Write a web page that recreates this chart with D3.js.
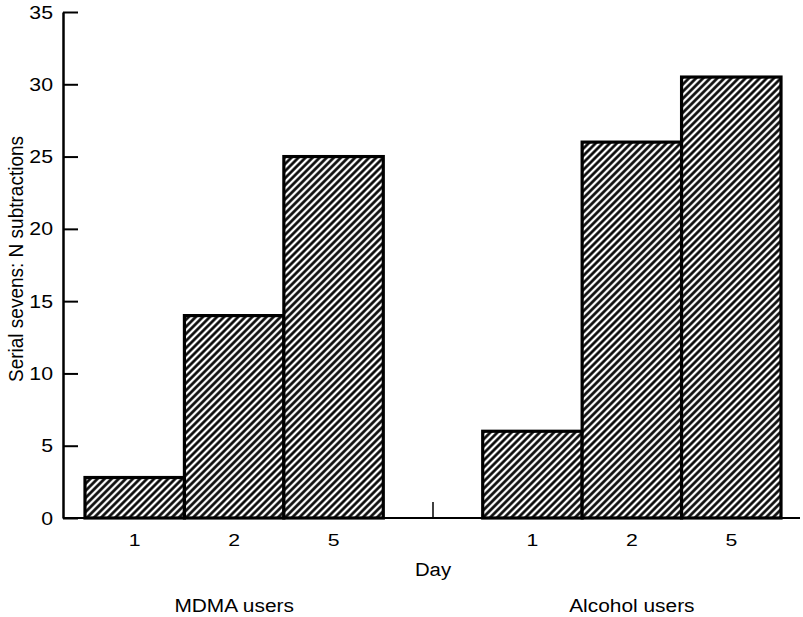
<!DOCTYPE html>
<html>
<head>
<meta charset="utf-8">
<script src="https://cdn.jsdelivr.net/npm/d3@7"></script>
<style>
  html, body { margin: 0; padding: 0; background: #fff; }
  svg { display: block; }
  text { font-family: "Liberation Sans", Arial, Helvetica, sans-serif; fill: #000; }
</style>
</head>
<body>
<svg id="chart" width="803" height="617"></svg>
<script>
// ---- data ----
const groups = ["MDMA users", "Alcohol users"];
const days = ["1", "2", "5"];
const mdmaValues = [2.8, 14, 25];
const alcoholValues = [6, 26, 30.5];
const yTicks = [0, 5, 10, 15, 20, 25, 30, 35];
const yLabel = "Serial sevens: N subtractions";
const xLabel = "Day";

// ---- build slots ----
const bars = [];
days.forEach((d, i) => bars.push({ key: "MDMA-" + d, day: d, value: mdmaValues[i] }));
days.forEach((d, i) => bars.push({ key: "Alcohol-" + d, day: d, value: alcoholValues[i] }));
const slots = bars.slice(0, 3).map(b => b.key).concat(["gap"]).concat(bars.slice(3).map(b => b.key));
const dayOf = {}; bars.forEach(b => dayOf[b.key] = b.day);

const svg = d3.select("#chart");
const axisX0 = 63;
const FONT = "'Liberation Sans', Arial, sans-serif";

const x = d3.scaleBand().domain(slots).range([85, 781]).padding(0);
const y = d3.scaleLinear().domain([0, 35]).range([518, 12]);

// hatch pattern
const defs = svg.append("defs");
const pat = defs.append("pattern")
  .attr("id", "hatch")
  .attr("patternUnits", "userSpaceOnUse")
  .attr("width", 5).attr("height", 5)
  .attr("patternTransform", "rotate(45)");
pat.append("rect").attr("width", 5).attr("height", 5).attr("fill", "#fff");
pat.append("line")
  .attr("x1", 2.5).attr("y1", -1).attr("x2", 2.5).attr("y2", 6)
  .attr("stroke", "#000").attr("stroke-width", 2.6);

// bars
svg.append("g").selectAll("rect").data(bars).join("rect")
  .attr("x", d => x(d.key))
  .attr("y", d => y(d.value))
  .attr("width", x.bandwidth())
  .attr("height", d => y(0) - y(d.value))
  .attr("fill", "url(#hatch)")
  .attr("stroke", "#000")
  .attr("stroke-width", 3.2);

// x axis line
svg.append("line")
  .attr("x1", axisX0).attr("x2", 800)
  .attr("y1", y(0)).attr("y2", y(0))
  .attr("stroke", "#000").attr("stroke-width", 2);

// helper: horizontally stretched text
function stretch(sel, sx) {
  sel.each(function () {
    const t = d3.select(this);
    const tx = +t.attr("x") || 0, ty = +t.attr("y") || 0;
    t.attr("x", 0).attr("y", 0)
     .attr("transform", `translate(${tx},${ty}) scale(${sx},1)`);
  });
}

// x axis labels
const xAxis = d3.axisBottom(x)
  .tickValues(slots.filter(s => s !== "gap"))
  .tickSize(0).tickPadding(16)
  .tickFormat(k => dayOf[k]);
const gx = svg.append("g").attr("transform", `translate(0,${y(0)})`).call(xAxis);
gx.select(".domain").remove();
gx.selectAll("text").style("font-size", "17px").style("font-family", FONT).call(stretch, 1.25);

// middle tick mark
svg.append("line")
  .attr("x1", x("gap") + x.bandwidth() / 2).attr("x2", x("gap") + x.bandwidth() / 2)
  .attr("y1", y(0) - 16).attr("y2", y(0))
  .attr("stroke", "#000").attr("stroke-width", 1.5);

// y axis
const yAxis = d3.axisLeft(y).tickValues(yTicks).tickSizeInner(-15).tickSizeOuter(0).tickPadding(10);
const gy = svg.append("g").attr("transform", `translate(${axisX0},0)`).call(yAxis);
gy.select(".domain").attr("stroke-width", 2.5);
gy.selectAll(".tick line").attr("stroke-width", 2);
gy.selectAll("text").style("font-size", "19px").style("font-family", FONT).call(stretch, 1.12);

// axis titles
svg.append("text")
  .attr("transform", `translate(23,${(y(0) + y(35)) / 2 - 6}) scale(1.1,1) rotate(-90)`)
  .attr("text-anchor", "middle")
  .style("font-size", "19px")
  .text(yLabel);

svg.append("text")
  .attr("transform", `translate(${x("gap") + x.bandwidth() / 2},576) scale(1.13,1)`)
  .attr("text-anchor", "middle")
  .style("font-size", "18px")
  .text(xLabel);

// group labels
svg.append("g").selectAll("text").data(groups).join("text")
  .attr("transform", (g, i) => `translate(${x(i === 0 ? "MDMA-2" : "Alcohol-2") + x.bandwidth() / 2},612) scale(1.13,1)`)
  .attr("text-anchor", "middle")
  .style("font-size", "18.5px")
  .text(g => g);
</script>
</body>
</html>
